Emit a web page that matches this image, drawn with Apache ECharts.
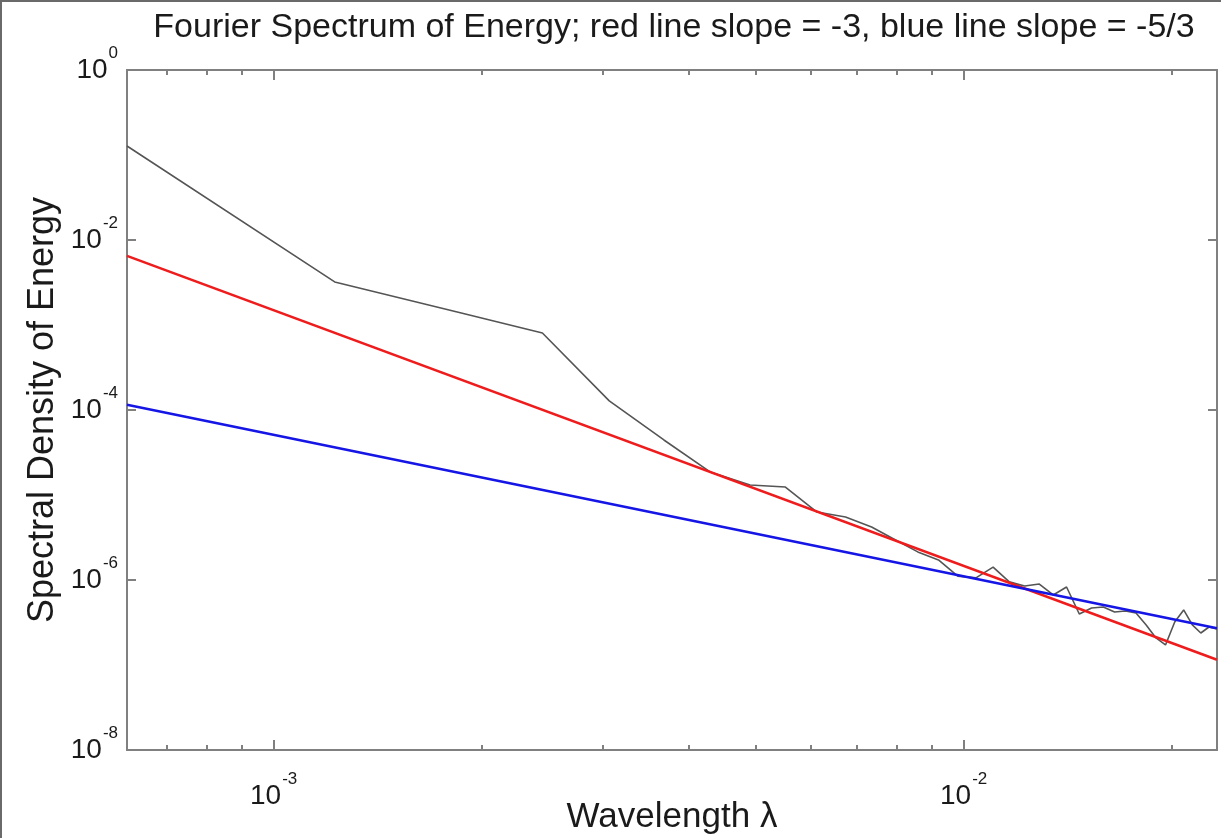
<!DOCTYPE html>
<html>
<head>
<meta charset="utf-8">
<script src="https://cdn.jsdelivr.net/npm/echarts@6/dist/echarts.min.js"></script>
<style>
  html, body { margin: 0; padding: 0; background: #fff; }
  #frame { position: absolute; left: 0; top: 0; width: 1221px; height: 838px; box-sizing: border-box; border-left: 2px solid #6a6a6a; border-top: 2px solid #6a6a6a; }
  #chart { position: absolute; left: 0; top: 0; width: 1221px; height: 838px; }
</style>
</head>
<body>
<div id="chart"></div>
<div id="frame"></div>
<script>
// ---- data ----
const titleText = 'Fourier Spectrum of Energy; red line slope = -3, blue line slope = -5/3';
const xName = 'Wavelength \u03bb';
const yName = 'Spectral Density of Energy';

const wavelengths = [6.13e-4, 1.226e-3, 1.839e-3, 2.452e-3, 3.065e-3, 3.678e-3, 4.291e-3, 4.904e-3,
  5.517e-3, 6.13e-3, 6.743e-3, 7.356e-3, 7.969e-3, 8.582e-3, 9.195e-3, 9.808e-3, 1.0421e-2,
  1.1034e-2, 1.1647e-2, 1.226e-2, 1.2873e-2, 1.3486e-2, 1.4099e-2, 1.4712e-2, 1.5325e-2,
  1.5938e-2, 1.6551e-2, 1.7164e-2, 1.7777e-2, 1.839e-2, 1.9003e-2, 1.9616e-2, 2.0229e-2,
  2.0842e-2, 2.1455e-2, 2.2068e-2, 2.2681e-2, 2.3294e-2];
const energy = [0.1276, 3.21e-3, 1.43e-3, 8.05e-4, 1.28e-4, 4.44e-5, 1.87e-5, 1.31e-5,
  1.24e-5, 6.3e-6, 5.5e-6, 4.2e-6, 2.96e-6, 2.14e-6, 1.72e-6, 1.11e-6, 1.06e-6,
  1.42e-6, 9.5e-7, 8.5e-7, 8.97e-7, 6.67e-7, 8.28e-7, 3.98e-7, 4.69e-7,
  4.81e-7, 4.2e-7, 4.32e-7, 4.09e-7, 2.96e-7, 2.08e-7, 1.72e-7, 3.21e-7,
  4.44e-7, 2.96e-7, 2.38e-7, 2.8e-7, 2.65e-7];

const fitX = [6.13e-4, 2.3294e-2];
const redFit = [6.5e-3, 1.15e-7];    // slope -3
const blueFit = [1.15e-4, 2.7e-7];   // slope -5/3

const xMajorTicks = [1e-3, 1e-2];
const xMinorTicks = [7e-4, 8e-4, 9e-4, 2e-3, 3e-3, 4e-3, 5e-3, 6e-3, 7e-3, 8e-3, 9e-3, 2e-2];
const yTicks = [1e-8, 1e-6, 1e-4, 1e-2, 1];

const xMin = 6.13e-4, xMax = 2.3294e-2, yMin = 1e-8, yMax = 1;

// ---- chart ----
const FONT = '"Liberation Sans", Arial, Helvetica, sans-serif';
const AXIS_COLOR = '#808080';
const TEXT_COLOR = '#1a1a1a';

function pow10Label(v) {
  const e = Math.round(Math.log10(v));
  return '{b|10}{s|' + e + '}';
}
const richLabel = {
  b: { fontSize: 28, fontFamily: FONT, color: TEXT_COLOR },
  s: { fontSize: 17, fontFamily: FONT, color: TEXT_COLOR, padding: [0, 0, 34, 1] }
};

function xAxisCfg(pos, ticks, len, labels) {
  return {
    type: 'log', logBase: 10, min: xMin, max: xMax, position: pos, gridIndex: 0,
    axisLine: { show: true, onZero: false, lineStyle: { color: AXIS_COLOR, width: 2 } },
    axisTick: { show: true, inside: true, length: len, customValues: ticks, lineStyle: { color: AXIS_COLOR, width: 2 } },
    axisLabel: labels ? { show: true, customValues: xMajorTicks, formatter: pow10Label, rich: richLabel, margin: 21 } : { show: false },
    splitLine: { show: false }, minorTick: { show: false }, minorSplitLine: { show: false },
    name: labels ? xName : '', nameLocation: 'middle', nameGap: 50, nameMoveOverlap: false,
    nameTextStyle: { fontSize: 35, fontFamily: FONT, color: TEXT_COLOR }
  };
}
function yAxisCfg(pos, labels) {
  return {
    type: 'log', logBase: 10, min: yMin, max: yMax, position: pos, gridIndex: 0,
    axisLine: { show: true, onZero: false, lineStyle: { color: AXIS_COLOR, width: 2 } },
    axisTick: { show: true, inside: true, length: 9, customValues: yTicks, lineStyle: { color: AXIS_COLOR, width: 2 } },
    axisLabel: labels ? { show: true, customValues: yTicks, formatter: pow10Label, rich: richLabel, margin: 9 } : { show: false },
    splitLine: { show: false }, minorTick: { show: false }, minorSplitLine: { show: false },
    name: labels ? yName : '', nameLocation: 'middle', nameGap: 66, nameRotate: 90, nameMoveOverlap: false,
    nameTextStyle: { fontSize: 36, fontFamily: FONT, color: TEXT_COLOR }
  };
}

const chart = echarts.init(document.getElementById('chart'), null, { renderer: 'canvas' });
chart.setOption({
  backgroundColor: '#ffffff',
  animation: false,
  grid: { left: 127, top: 70, right: 4, bottom: 88, containLabel: false, outerBoundsMode: 'none' },
  graphic: [{
    type: 'text', x: 674, y: 28,
    style: { text: titleText, font: '34px ' + FONT, fill: TEXT_COLOR, textAlign: 'center', textVerticalAlign: 'middle' }
  }],
  xAxis: [
    xAxisCfg('bottom', xMajorTicks, 10, true),
    xAxisCfg('bottom', xMinorTicks, 5, false),
    xAxisCfg('top', xMajorTicks, 10, false),
    xAxisCfg('top', xMinorTicks, 5, false)
  ],
  yAxis: [
    yAxisCfg('left', true),
    yAxisCfg('right', false)
  ],
  series: [
    {
      name: 'spectrum', type: 'line', xAxisIndex: 0, yAxisIndex: 0,
      data: wavelengths.map((x, i) => [x, energy[i]]),
      showSymbol: false, symbol: 'none', lineStyle: { color: '#555555', width: 1.6 }, silent: true
    },
    {
      name: 'slope -3', type: 'line', xAxisIndex: 0, yAxisIndex: 0,
      data: fitX.map((x, i) => [x, redFit[i]]),
      showSymbol: false, symbol: 'none', lineStyle: { color: '#ee1c1c', width: 2.6 }, silent: true
    },
    {
      name: 'slope -5/3', type: 'line', xAxisIndex: 0, yAxisIndex: 0,
      data: fitX.map((x, i) => [x, blueFit[i]]),
      showSymbol: false, symbol: 'none', lineStyle: { color: '#1515e6', width: 2.6 }, silent: true
    }
  ]
});
</script>
</body>
</html>
